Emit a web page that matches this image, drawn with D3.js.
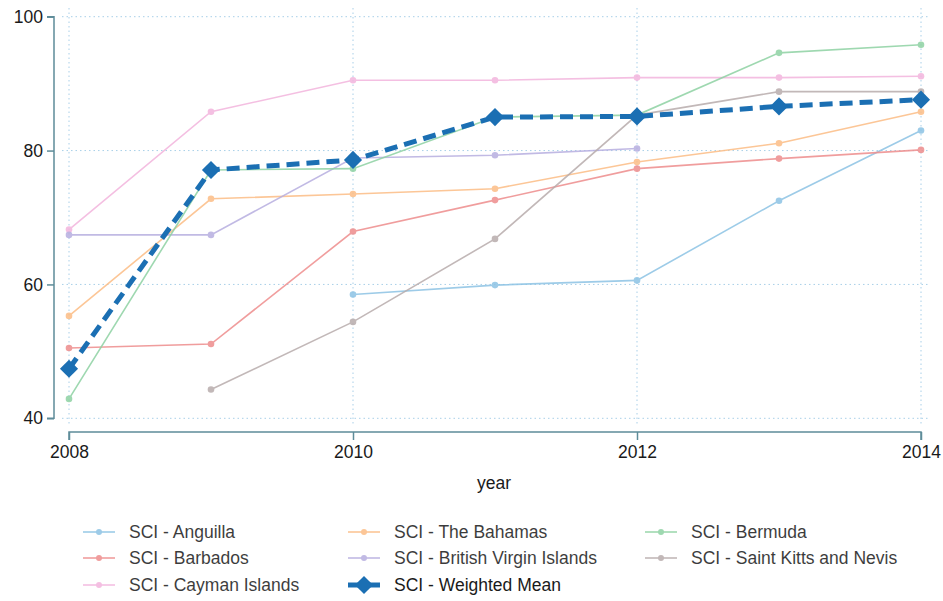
<!DOCTYPE html>
<html><head><meta charset="utf-8">
<script src="https://cdn.jsdelivr.net/npm/d3@7"></script>
<style>
body{margin:0;background:#fff;}
text{font-family:"Liberation Sans",Arial,sans-serif;}
</style></head>
<body><svg id="c" width="943" height="601"></svg>
<script>
const years = [2008, 2009, 2010, 2011, 2012, 2013, 2014];
const xTicks = [2008, 2010, 2012, 2014];
const yTicks = [40, 60, 80, 100];
const seriesNames = ["SCI - Anguilla", "SCI - Barbados", "SCI - Cayman Islands", "SCI - The Bahamas", "SCI - British Virgin Islands", "SCI - Weighted Mean", "SCI - Bermuda", "SCI - Saint Kitts and Nevis"];
const anguilla   = [null, null, 58.5, 59.9, 60.6, 72.5, 83.0];
const barbados   = [50.5, 51.1, 67.9, 72.6, 77.3, 78.8, 80.1];
const cayman     = [68.2, 85.8, 90.5, 90.5, 90.9, 90.9, 91.1];
const bahamas    = [55.3, 72.8, 73.5, 74.3, 78.3, 81.1, 85.8];
const bvi        = [67.4, 67.4, 78.9, 79.3, 80.3, null, null];
const weighted   = [47.4, 77.1, 78.6, 85.0, 85.1, 86.6, 87.6];
const bermuda    = [42.9, 77.1, 77.3, 85.0, 85.3, 94.6, 95.8];
const stkitts    = [null, 44.3, 54.4, 66.8, 85.3, 88.8, 88.8];
const seriesData = [anguilla, barbados, cayman, bahamas, bvi, weighted, bermuda, stkitts];
const colors = ["#8cc3e4", "#ee8d8d", "#f3b5dd", "#fcbd85", "#b7aee0", "#1b6fb3", "#8ed2a3", "#b8acac"];

const FS = 17.5;
const svg = d3.select("#c");
const x = d3.scaleLinear().domain([2008, 2014]).range([69, 921]);
const y = d3.scaleLinear().domain([40, 100]).range([418.3, 16.7]);

// grid
const grid = svg.append("g");
grid.selectAll(".hg").data(yTicks).enter().append("line")
  .attr("x1", 62).attr("x2", 930).attr("y1", d => y(d)).attr("y2", d => y(d))
  .attr("stroke", "#a8cfe8").attr("stroke-width", 1).attr("stroke-dasharray", "1.5,3");
grid.selectAll(".vg").data(xTicks).enter().append("line")
  .attr("y1", 8).attr("y2", 426).attr("x1", d => x(d)).attr("x2", d => x(d))
  .attr("stroke", "#a8cfe8").attr("stroke-width", 1).attr("stroke-dasharray", "1.5,3");

// axes
const axisColor = "#5e8c99";
const yAxis = svg.append("g").attr("transform", "translate(54,0)")
  .call(d3.axisLeft(y).tickValues(yTicks).tickSize(7).tickPadding(4).tickFormat(d3.format("d")));
yAxis.select(".domain").attr("stroke", axisColor).attr("stroke-width", 1.5).attr("d", `M-7,${y(100)}H0V${y(40)}H-7`);
yAxis.selectAll(".tick line").attr("stroke", axisColor).attr("stroke-width", 1.5);
yAxis.selectAll(".tick text").attr("font-size", FS).attr("fill", "#1a1a1a").attr("font-family", "Liberation Sans, Arial, sans-serif");

const xAxis = svg.append("g").attr("transform", "translate(0,432)")
  .call(d3.axisBottom(x).tickValues(xTicks).tickSize(8).tickPadding(6).tickFormat(d3.format("d")));
xAxis.select(".domain").attr("stroke", axisColor).attr("stroke-width", 1.5).attr("d", `M${x(2008)},8V0H${x(2014)}V8`);
xAxis.selectAll(".tick line").attr("stroke", axisColor).attr("stroke-width", 1.5);
xAxis.selectAll(".tick text").attr("font-size", FS).attr("fill", "#1a1a1a").attr("font-family", "Liberation Sans, Arial, sans-serif");

svg.append("text").attr("x", 494).attr("y", 489).attr("text-anchor", "middle")
  .attr("font-size", FS).attr("fill", "#1a1a1a").text("year");

// lines
const line = d3.line().defined(d => d.v !== null).x(d => x(d.yr)).y(d => y(d.v));
const drawOrder = [0, 1, 2, 3, 4, 6, 7, 5];
drawOrder.forEach(i => {
  const pts = years.map((yr, j) => ({yr, v: seriesData[i][j]}));
  const g = svg.append("g");
  if (i === 5) {
    g.append("path").datum(pts).attr("d", line).attr("fill", "none")
      .attr("stroke", colors[i]).attr("stroke-width", 5).attr("stroke-dasharray", "13,7");
    g.selectAll("path.m").data(pts.filter(d => d.v !== null)).enter().append("path")
      .attr("d", d3.symbol().type(d3.symbolDiamond2).size(210))
      .attr("transform", d => `translate(${x(d.yr)},${y(d.v)})`)
      .attr("fill", colors[i]);
  } else {
    g.attr("opacity", 0.85);
    g.append("path").datum(pts).attr("d", line).attr("fill", "none")
      .attr("stroke", colors[i]).attr("stroke-width", 1.6);
    g.selectAll("circle").data(pts.filter(d => d.v !== null)).enter().append("circle")
      .attr("cx", d => x(d.yr)).attr("cy", d => y(d.v)).attr("r", 3.3).attr("fill", colors[i]);
  }
});

// legend
const legendPos = [
  [83, 532], [83, 558], [83, 585],
  [348, 532], [348, 558], [348, 585],
  [645, 532], [645, 558]
];
seriesNames.forEach((name, i) => {
  const [lx, ly] = legendPos[i];
  const g = svg.append("g");
  if (i === 5) {
    g.append("line").attr("x1", lx).attr("x2", lx + 32).attr("y1", ly).attr("y2", ly)
      .attr("stroke", colors[i]).attr("stroke-width", 5);
    g.append("path").attr("d", d3.symbol().type(d3.symbolDiamond2).size(210))
      .attr("transform", `translate(${lx + 16},${ly})`).attr("fill", colors[i]);
  } else {
    g.attr("opacity", 0.85);
    g.append("line").attr("x1", lx).attr("x2", lx + 32).attr("y1", ly).attr("y2", ly)
      .attr("stroke", colors[i]).attr("stroke-width", 1.6);
    g.append("circle").attr("cx", lx + 16).attr("cy", ly).attr("r", 3).attr("fill", colors[i]);
  }
  g.append("text").attr("x", lx + 46).attr("y", ly + 6).attr("font-size", FS)
    .attr("fill", "#1a1a1a").text(name);
});
</script></body></html>
